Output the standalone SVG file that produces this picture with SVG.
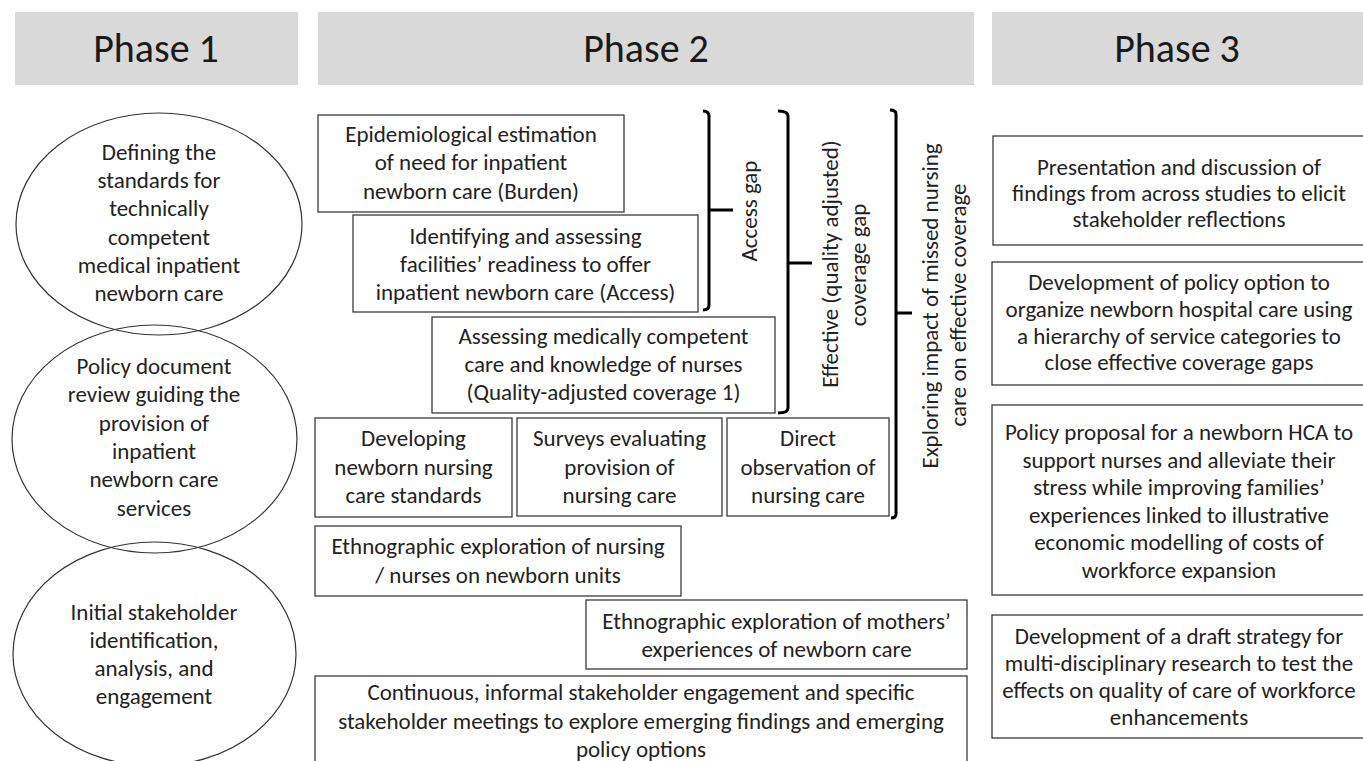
<svg xmlns="http://www.w3.org/2000/svg" width="1363" height="761" viewBox="0 0 1363 761">
<style>
text{font-family:Carlito,Calibri,Lato,"Liberation Sans",sans-serif;fill:#222;text-anchor:middle;font-size:23px}
.hd{font-size:40px;fill:#1a1a1a}
.bar{fill:#d9d9d9}
.box{fill:#fff;stroke:#3a3a3a;stroke-width:1.3}
.ell{fill:none;stroke:#333;stroke-width:1.2}
.br{fill:none;stroke:#000;stroke-width:3;stroke-linecap:butt}
</style>
<g id="header1"><rect class="bar" x="15" y="12" width="283" height="73"/><text class="hd" x="156" y="62">Phase 1</text></g>
<g id="header2"><rect class="bar" x="318" y="12" width="656" height="73"/><text class="hd" x="646" y="62">Phase 2</text></g>
<g id="header3"><rect class="bar" x="992" y="12" width="371" height="73"/><text class="hd" x="1177" y="62">Phase 3</text></g>

<g id="p1-defining"><ellipse class="ell" cx="159" cy="224" rx="143" ry="111"/>
<text x="159" y="160">Defining the</text><text x="159" y="188">standards for</text><text x="159" y="216">technically</text><text x="159" y="245">competent</text><text x="159" y="273">medical inpatient</text><text x="159" y="301">newborn care</text></g>
<g id="p1-policy"><ellipse class="ell" cx="154.5" cy="439" rx="142.5" ry="114"/>
<text x="154" y="374">Policy document</text><text x="154" y="402">review guiding the</text><text x="154" y="431">provision of</text><text x="154" y="459">inpatient</text><text x="154" y="487">newborn care</text><text x="154" y="516">services</text></g>
<g id="p1-stakeholder"><ellipse class="ell" cx="154.5" cy="654" rx="141.5" ry="112"/>
<text x="154" y="620">Initial stakeholder</text><text x="154" y="648">identification,</text><text x="154" y="676">analysis, and</text><text x="154" y="704">engagement</text></g>

<g id="p2-burden"><rect class="box" x="318" y="115" width="306" height="97"/>
<text x="471" y="142">Epidemiological estimation</text><text x="471" y="170">of need for inpatient</text><text x="471" y="199">newborn care (Burden)</text></g>
<g id="p2-access"><rect class="box" x="353" y="215" width="345" height="97"/>
<text x="525.5" y="244">Identifying and assessing</text><text x="525.5" y="272">facilities’ readiness to offer</text><text x="525.5" y="300">inpatient newborn care (Access)</text></g>
<g id="p2-quality"><rect class="box" x="432" y="317" width="343" height="96"/>
<text x="603.5" y="344">Assessing medically competent</text><text x="603.5" y="372">care and knowledge of nurses</text><text x="603.5" y="400">(Quality-adjusted coverage 1)</text></g>
<g id="p2-standards"><rect class="box" x="315" y="418" width="197" height="99"/>
<text x="413.5" y="446">Developing</text><text x="413.5" y="475">newborn nursing</text><text x="413.5" y="503">care standards</text></g>
<g id="p2-surveys"><rect class="box" x="517" y="418" width="205" height="98"/>
<text x="619.5" y="446">Surveys evaluating</text><text x="619.5" y="475">provision of</text><text x="619.5" y="503">nursing care</text></g>
<g id="p2-observation"><rect class="box" x="727" y="418" width="162" height="98"/>
<text x="808" y="446">Direct</text><text x="808" y="475">observation of</text><text x="808" y="503">nursing care</text></g>
<g id="p2-ethno-nurses"><rect class="box" x="315" y="526" width="366" height="70"/>
<text x="498" y="554">Ethnographic exploration of nursing</text><text x="498" y="583">/ nurses on newborn units</text></g>
<g id="p2-ethno-mothers"><rect class="box" x="586" y="600" width="381" height="69"/>
<text x="776.5" y="629">Ethnographic exploration of mothers’</text><text x="776.5" y="657">experiences of newborn care</text></g>
<g id="p2-continuous"><rect class="box" x="315" y="676" width="652" height="95"/>
<text x="641" y="700">Continuous, informal stakeholder engagement and specific</text><text x="641" y="729">stakeholder meetings to explore emerging findings and emerging</text><text x="641" y="757">policy options</text></g>

<g id="connectors">
<path class="br" d="M703,111 Q709,111 709,116 L709,305 Q709,310 703,310 M709,210 L733,210"/>
<path class="br" d="M778,111 Q788,111 788,116 L788,408 Q788,413 778,413 M788,263 L812,263"/>
<path class="br" d="M890,110 Q896,110 896,114 L896,514 Q896,518 891,518 M896,313 L912,313"/>
</g>
<g id="label-access"><text transform="translate(757,211) rotate(-90)">Access gap</text></g>
<g id="label-effective"><text transform="translate(838,264) rotate(-90)">Effective (quality adjusted)</text><text transform="translate(866,265) rotate(-90)">coverage gap</text></g>
<g id="label-exploring"><text transform="translate(938,306) rotate(-90)">Exploring impact of missed nursing</text><text transform="translate(966,305) rotate(-90)">care on effective coverage</text></g>

<g id="p3-presentation"><rect class="box" x="993" y="136" width="380" height="109"/>
<text x="1179" y="175">Presentation and discussion of</text><text x="1179" y="201">findings from across studies to elicit</text><text x="1179" y="227">stakeholder reflections</text></g>
<g id="p3-option"><rect class="box" x="992" y="262" width="381" height="123"/>
<text x="1179" y="290">Development of policy option to</text><text x="1179" y="317">organize newborn hospital care using</text><text x="1179" y="344">a hierarchy of service categories to</text><text x="1179" y="370">close effective coverage gaps</text></g>
<g id="p3-hca"><rect class="box" x="992" y="405" width="381" height="190"/>
<text x="1179" y="440">Policy proposal for a newborn HCA to</text><text x="1179" y="468">support nurses and alleviate their</text><text x="1179" y="495">stress while improving families’</text><text x="1179" y="523">experiences linked to illustrative</text><text x="1179" y="550">economic modelling of costs of</text><text x="1179" y="578">workforce expansion</text></g>
<g id="p3-strategy"><rect class="box" x="992" y="615" width="381" height="123"/>
<text x="1179" y="644">Development of a draft strategy for</text><text x="1179" y="671">multi-disciplinary research to test the</text><text x="1179" y="698">effects on quality of care of workforce</text><text x="1179" y="725">enhancements</text></g>
</svg>
